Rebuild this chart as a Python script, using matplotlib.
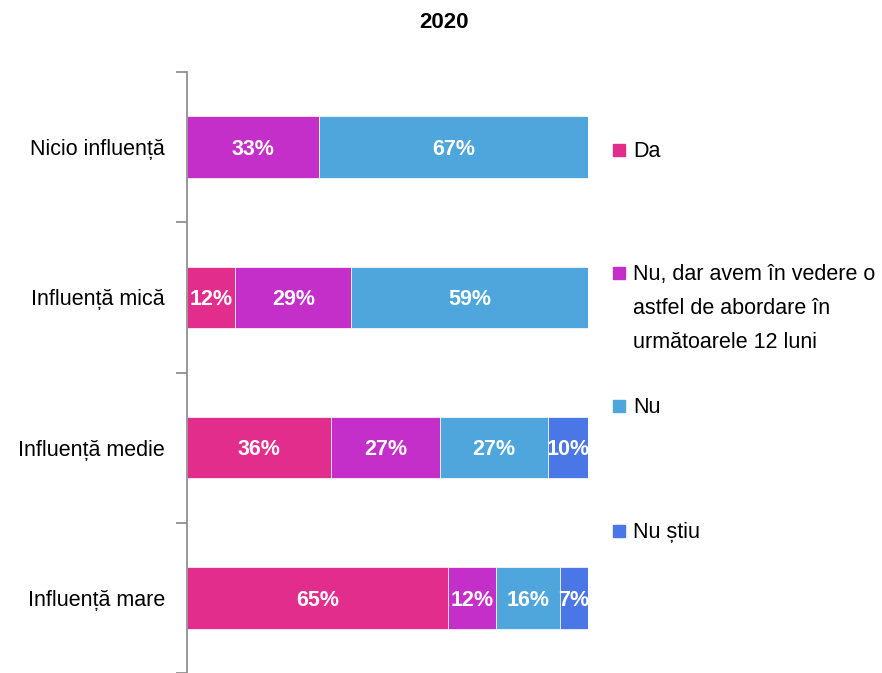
import matplotlib.pyplot as plt
from matplotlib.patches import Rectangle

# ---- data ----
categories = ["Nicio influență", "Influență mică", "Influență medie", "Influență mare"]
series = ["Da", "Nu, dar avem în vedere o\nastfel de abordare în\nurmătoarele 12 luni", "Nu", "Nu știu"]
da = [0, 12, 36, 65]
nu_dar = [33, 29, 27, 12]
nu = [67, 59, 27, 16]
nu_stiu = [0, 0, 10, 7]
colors = ["#E32D8C", "#C52FC9", "#4FA6DC", "#4A76E6"]

plt.rcParams["font.family"] = ["Liberation Sans", "DejaVu Sans"]

fig = plt.figure(figsize=(8.82, 6.73), dpi=100)
ax = fig.add_axes([187 / 882, 0.0, (588 - 187) / 882, (673 - 72) / 673])

values = [da, nu_dar, nu, nu_stiu]
ypos = list(range(len(categories)))
left = [0] * len(categories)
for vals, col in zip(values, colors):
    bars = ax.barh(ypos, vals, left=left, height=0.41, color=col, edgecolor="white", linewidth=0.5)
    for b, v in zip(bars, vals):
        if v > 0:
            ax.text(b.get_x() + b.get_width() / 2, b.get_y() + b.get_height() / 2 + 0.015, f"{v}%",
                    ha="center", va="center", color="white", fontsize=15.5, fontweight="bold")
    left = [l + v for l, v in zip(left, vals)]

ax.set_xlim(0, 100)
ax.set_ylim(len(categories) - 0.5, -0.5)
ax.set_xticks([])
ax.set_yticks(ypos)
ax.set_yticklabels(categories, fontsize=15.5)
ax.set_yticks([i - 0.5 for i in range(len(categories) + 1)], minor=True)
ax.tick_params(axis="y", which="major", length=0, pad=16)
ax.tick_params(axis="y", which="minor", length=8, width=1.2, color="#888888")
for s in ["top", "right", "bottom"]:
    ax.spines[s].set_visible(False)
ax.spines["left"].set_color("#888888")
ax.spines["left"].set_linewidth(1.2)

fig.text(0.503, 1 - 22 / 673, "2020", ha="center", va="center", fontsize=16, fontweight="bold")

# ---- legend ----
legend_y = [150, 273, 406, 531]
for name, col, y in zip(series, colors, legend_y):
    fig.patches.append(Rectangle((613 / 882, 1 - (y + 6) / 673), 12 / 882, 12 / 673,
                                 transform=fig.transFigure, color=col))
    fig.text(633 / 882, 1 - (y - 9) / 673, name, ha="left", va="top", fontsize=15.5,
             linespacing=1.8)

fig.savefig("out.png", dpi=100)
